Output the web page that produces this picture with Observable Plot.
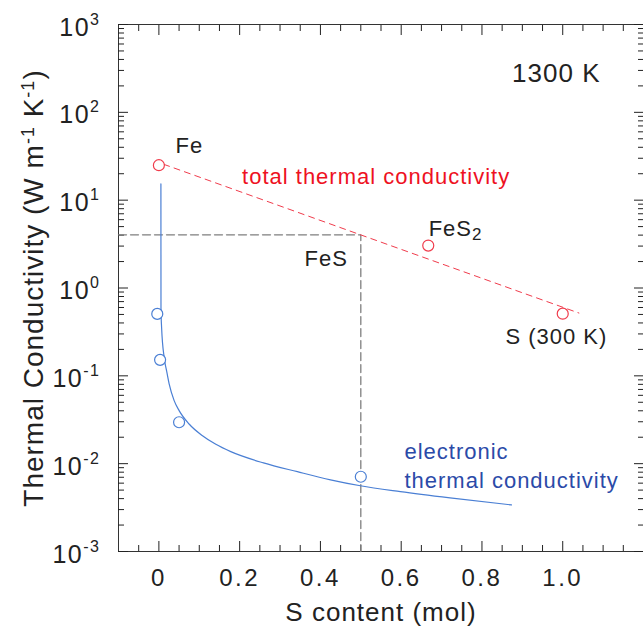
<!DOCTYPE html>
<html>
<head>
<meta charset="utf-8">
<script src="https://cdn.jsdelivr.net/npm/d3@7"></script>
<script src="https://cdn.jsdelivr.net/npm/@observablehq/plot@0.6"></script>
<style>
  html, body { margin: 0; padding: 0; background: #fff; }
  #chart svg { display: block; }
  #chart svg text { letter-spacing: 1px; }
  #chart svg g[aria-label="y-axis tick label"] text { letter-spacing: 1.5px; }
  #chart svg g[aria-label="x-axis tick label"] text { letter-spacing: 2.5px; }
</style>
</head>
<body>
<div id="chart"></div>
<script>
// ---- data ----
// total thermal conductivity (measured points)
const totalS = [0, 0.667, 1.0];
const totalK = [25, 3.04, 0.51];
// total thermal conductivity trend (dashed)
const totalFitS = [0.012, 1.04];
const totalFitK = [25.6, 0.519];
// electronic thermal conductivity (points)
const elecS = [-0.004, 0.003, 0.05, 0.5];
const elecK = [0.507, 0.152, 0.0296, 0.0071];
// electronic thermal conductivity curve
const elecFitS = [0.005, 0.0052, 0.0067, 0.013, 0.019, 0.0254, 0.0378, 0.0501, 0.0748, 0.108, 0.141, 0.178, 0.259, 0.343, 0.425, 0.499, 0.598, 0.721, 0.873];
const elecFitK = [15.3, 0.553, 0.357, 0.1625, 0.1146, 0.0809, 0.0522, 0.0402, 0.0283, 0.0208, 0.0166, 0.0137, 0.0102, 0.0081, 0.00655, 0.0056, 0.0048, 0.00407, 0.00339];
// FeS guide (gray dashed)
const fesGuideS = [-0.1, 0.5, 0.5];
const fesGuideK = [4.03, 4.03, 0.001];
// labels
const darkLabels = ["Fe", "FeS2", "FeS", "S (300 K)"];
const darkLabelS = [0.041, 0.668, 0.3606, 0.858];
const darkLabelK = [34.8, 3.95, 1.80, 0.231];
const redLabels = ["total thermal conductivity"];
const redLabelS = [0.206];
const redLabelK = [15.1];
const blueLabels = ["electronic", "thermal conductivity"];
const blueLabelS = [0.608, 0.608];
const blueLabelK = [0.0114, 0.00533];
const tempLabel = ["1300 K"];
const xTitle = ["S content (mol)"];
const yTitle = ["Thermal Conductivity (W m-1 K-1)"];
// ticks
const xLabelTicks = [0, 0.2, 0.4, 0.6, 0.8, 1.0];
const xMinorTicks = [-0.05, 0.05, 0.1, 0.15, 0.25, 0.3, 0.35, 0.45, 0.5, 0.55, 0.65, 0.7, 0.75, 0.85, 0.9, 0.95, 1.05, 1.1, 1.15];
const yMajorTicks = [1e-3, 1e-2, 1e-1, 1, 10, 100, 1000];
const yMinorTicks = [];
for (const e of [-3, -2, -1, 0, 1, 2]) for (const m of [2, 3, 4, 5, 6, 7, 8, 9]) yMinorTicks.push(m * Math.pow(10, e));
const xDomain = [-0.1, 1.2];
const yDomain = [1e-3, 1e3];

const RED = "#f03c4c";
const RED_TEXT = "#ee1122";
const BLUE = "#4a7fd4";
const BLUE_TEXT = "#2b4aa8";
const INK = "#222";

const empty = () => "";
const tickAxes = [];
for (const anchor of ["left", "right"]) {
  tickAxes.push(Plot.axisY({ticks: yMajorTicks, anchor, tickSize: -10, tickFormat: empty, label: null}));
  tickAxes.push(Plot.axisY({ticks: yMinorTicks, anchor, tickSize: -6, tickFormat: empty, label: null}));
}
for (const anchor of ["bottom", "top"]) {
  tickAxes.push(Plot.axisX({ticks: xLabelTicks, anchor, tickSize: -10, tickFormat: empty, label: null}));
  tickAxes.push(Plot.axisX({ticks: xMinorTicks, anchor, tickSize: -6, tickFormat: empty, label: null}));
}

const chart = Plot.plot({
  width: 643,
  height: 627,
  marginLeft: 118,
  marginRight: 0,
  marginTop: 24,
  marginBottom: 76,
  style: {fontFamily: "'Liberation Sans', Arial, sans-serif", color: INK, background: "#fff"},
  x: {domain: xDomain},
  y: {type: "log", domain: yDomain},
  marks: [
    // frame: left, bottom and top edges (right edge falls outside the picture)
    Plot.ruleX([xDomain[0]], {stroke: "#333"}),
    Plot.ruleY([yDomain[0], yDomain[1]], {stroke: "#333"}),
    ...tickAxes,
    Plot.axisY({ticks: yMajorTicks, anchor: "left", tickSize: 0, tickPadding: 18, fontSize: 25, dy: 3,
      tickFormat: d => String(Math.round(Math.log10(d))), label: null}),
    Plot.axisX({ticks: xLabelTicks, anchor: "bottom", tickSize: 0, tickPadding: 17, fontSize: 24,
      tickFormat: d => d === 0 ? "0" : d.toFixed(1), label: null}),
    Plot.line(fesGuideS, {x: fesGuideS, y: fesGuideK, stroke: "#7f7f7f", strokeWidth: 1.3, strokeDasharray: "8,4"}),
    Plot.line(totalFitS, {x: totalFitS, y: totalFitK, stroke: RED, strokeWidth: 1, strokeDasharray: "6,5"}),
    Plot.line(elecFitS, {x: elecFitS, y: elecFitK, stroke: BLUE, strokeWidth: 1.2, curve: "monotone-x"}),
    Plot.dot(totalS, {x: totalS, y: totalK, r: 5.5, stroke: RED, fill: "white", strokeWidth: 1.2}),
    Plot.dot(elecS, {x: elecS, y: elecK, r: 5.5, stroke: BLUE, fill: "white", strokeWidth: 1.2}),
    Plot.text(darkLabels, {x: darkLabelS, y: darkLabelK, text: d => d, textAnchor: "start", lineAnchor: "bottom", fontSize: 22, fill: INK}),
    Plot.text(redLabels, {x: redLabelS, y: redLabelK, text: d => d, textAnchor: "start", lineAnchor: "bottom", fontSize: 22, fill: RED_TEXT}),
    Plot.text(blueLabels, {x: blueLabelS, y: blueLabelK, text: d => d, textAnchor: "start", lineAnchor: "bottom", fontSize: 22, fill: BLUE_TEXT}),
    Plot.text(tempLabel, {frameAnchor: "top-right", text: d => d, dx: -43, dy: 39, textAnchor: "end", lineAnchor: "top", fontSize: 26, fill: INK}),
    Plot.text(xTitle, {frameAnchor: "bottom", text: d => d, dy: 69, lineAnchor: "bottom", fontSize: 26, fill: INK}),
    Plot.text(yTitle, {frameAnchor: "left", text: d => d, dx: -76, rotate: -90, lineAnchor: "bottom", textAnchor: "middle", fontSize: 28, fill: INK})
  ]
});
document.getElementById("chart").appendChild(chart);

const root = d3.select(chart);
// y tick labels: 10 with superscript exponent
root.selectAll('g[aria-label="y-axis tick label"] text').each(function() {
  const e = this.textContent;
  if (!e) return;
  const t = d3.select(this);
  t.text("10");
  t.append("tspan").attr("dy", -11).attr("font-size", 16).text(e);
});
root.selectAll("text").each(function() {
  const s = this.textContent;
  const t = d3.select(this);
  if (s === "FeS2") {
    // FeS2 subscript
    t.text("FeS");
    t.append("tspan").attr("dy", 4).attr("font-size", 17).text("2");
  } else if (s === yTitle[0]) {
    // y title superscripts
    const parts = s.split("-1");
    t.text(parts[0]);
    for (let i = 1; i < parts.length; i++) {
      t.append("tspan").attr("dy", -9).attr("font-size", 18).text("-1");
      t.append("tspan").attr("dy", 9).text(parts[i]);
    }
  }
});
</script>
</body>
</html>
